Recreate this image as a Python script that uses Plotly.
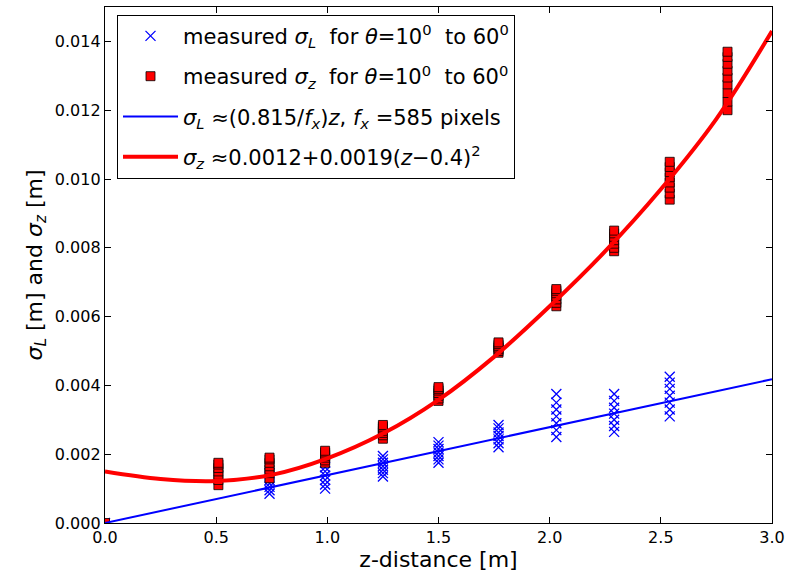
import plotly.graph_objects as go

# measured sigma_z clusters (z, values)
z_pos = [0.51, 0.74, 0.99, 1.25, 1.50, 1.77, 2.03, 2.29, 2.54, 2.80]
sigz_vals = [
    [0.00110, 0.00125, 0.00140, 0.00150, 0.00160, 0.00170, 0.00175],
    [0.00130, 0.00145, 0.00155, 0.00165, 0.00175, 0.00185, 0.00190],
    [0.00175, 0.00182, 0.00190, 0.00195, 0.00200, 0.00205, 0.00210],
    [0.00245, 0.00255, 0.00262, 0.00268, 0.00275, 0.00280, 0.00285],
    [0.00355, 0.00362, 0.00370, 0.00378, 0.00385, 0.00390, 0.00395],
    [0.00495, 0.00500, 0.00505, 0.00510, 0.00515, 0.00520, 0.00525],
    [0.00630, 0.00640, 0.00650, 0.00660, 0.00668, 0.00675, 0.00680],
    [0.00790, 0.00800, 0.00812, 0.00822, 0.00832, 0.00842, 0.00850],
    [0.00940, 0.00958, 0.00975, 0.00990, 0.01005, 0.01020, 0.01035, 0.01050],
    [0.01200, 0.01225, 0.01250, 0.01275, 0.01295, 0.01315, 0.01335, 0.01355, 0.01370],
]
# measured sigma_L clusters
zl_pos = [0.74, 0.99, 1.25, 1.50, 1.77, 2.03, 2.29, 2.54]
sigl_vals = [
    [0.00085, 0.00095, 0.00105, 0.00115, 0.00125, 0.00135, 0.00145],
    [0.00100, 0.00112, 0.00125, 0.00138, 0.00150, 0.00162, 0.00175],
    [0.00135, 0.00145, 0.00155, 0.00165, 0.00175, 0.00185, 0.00195],
    [0.00175, 0.00185, 0.00195, 0.00205, 0.00215, 0.00225, 0.00235],
    [0.00220, 0.00232, 0.00243, 0.00253, 0.00263, 0.00275, 0.00285],
    [0.00250, 0.00270, 0.00290, 0.00310, 0.00330, 0.00350, 0.00375],
    [0.00265, 0.00282, 0.00300, 0.00318, 0.00335, 0.00355, 0.00375],
    [0.00310, 0.00330, 0.00350, 0.00370, 0.00390, 0.00408, 0.00425],
]
# fitted curves
fitL_z = [0.0, 3.0]
fitL_v = [0.0, 0.00418]
fitz_z = [0.0, 0.25, 0.5, 0.75, 1.0, 1.25, 1.5, 1.75, 2.0, 2.25, 2.5, 2.75, 3.0]
fitz_v = [0.00150, 0.00128, 0.00122, 0.00140, 0.00188, 0.00260, 0.00358,
          0.00483, 0.00630, 0.00790, 0.00970, 0.01175, 0.01430]

xs_z, ys_z = [0.0], [0.0]
for z, vals in zip(z_pos, sigz_vals):
    xs_z += [z] * len(vals)
    ys_z += vals
xs_l, ys_l = [0.0], [0.0]
for z, vals in zip(zl_pos, sigl_vals):
    xs_l += [z] * len(vals)
    ys_l += vals

font = "DejaVu Sans"
fig = go.Figure()
fig.add_trace(go.Scatter(
    x=xs_l, y=ys_l, mode="markers", legendgroup="a",
    name="measured <i>σ<sub>L</sub></i>  for <i>θ</i>=10<sup>0</sup>  to 60<sup>0</sup>",
    marker=dict(symbol="x-thin", size=10, color="#0000ff",
                line=dict(color="#0000ff", width=1.3)),
))
fig.add_trace(go.Scatter(
    x=xs_z, y=ys_z, mode="markers", legendgroup="b",
    name="measured <i>σ<sub>z</sub></i>  for <i>θ</i>=10<sup>0</sup>  to 60<sup>0</sup>",
    marker=dict(symbol="square", size=9, color="#ff0000",
                line=dict(color="#000000", width=0.8)),
))
fig.add_trace(go.Scatter(
    x=fitL_z, y=fitL_v, mode="lines", legendgroup="c",
    name="<i>σ<sub>L</sub></i> ≈(0.815/<i>f<sub>x</sub></i>)<i>z</i>, <i>f<sub>x</sub></i> =585 pixels",
    line=dict(color="#0000ff", width=2),
))
fig.add_trace(go.Scatter(
    x=fitz_z, y=fitz_v, mode="lines", line_shape="spline", legendgroup="d",
    name="<i>σ<sub>z</sub></i> ≈0.0012+0.0019(<i>z</i>−0.4)<sup>2</sup>",
    line=dict(color="#ff0000", width=4),
))

axis_common = dict(
    showgrid=False, zeroline=False, showline=True, linecolor="black",
    linewidth=1.3, mirror="ticks", ticks="inside", ticklen=6,
    tickcolor="black", tickfont=dict(family=font, size=16, color="black"),
)
fig.update_layout(
    width=791, height=579,
    margin=dict(l=105, r=15, t=6, b=56),
    paper_bgcolor="white", plot_bgcolor="white",
    font=dict(family=font, color="black"),
    showlegend=True,
    legend=dict(x=0.018, y=0.985, xanchor="left", yanchor="top",
                bordercolor="black", borderwidth=1, bgcolor="white",
                font=dict(family=font, size=21, color="black"),
                tracegroupgap=10, itemwidth=55),
    xaxis=dict(range=[0, 3], tickvals=[0, 0.5, 1, 1.5, 2, 2.5, 3],
               tickformat=".1f",
               title=dict(text="z-distance [m]", font=dict(family=font, size=22), standoff=2),
               **axis_common),
    yaxis=dict(range=[0, 0.015], tickvals=[0, 0.002, 0.004, 0.006, 0.008, 0.010, 0.012, 0.014],
               tickformat=".3f",
               title=dict(text="<i>σ<sub>L</sub></i> [m] and <i>σ<sub>z</sub></i> [m]", font=dict(family=font, size=22), standoff=6),
               **axis_common),
)
fig.write_html("out.html")
